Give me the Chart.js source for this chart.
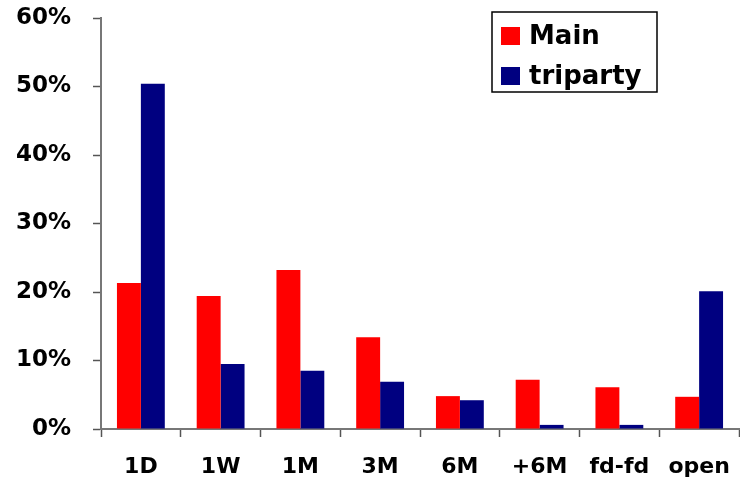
<!DOCTYPE html>
<html>
<head>
<meta charset="utf-8">
<script src="https://cdn.jsdelivr.net/npm/chart.js@4"></script>
<style>
  html, body { margin: 0; padding: 0; background: #fff; }
  #wrap { width: 740px; height: 488px; }
</style>
</head>
<body>
<div id="wrap"><canvas id="repoChart"></canvas></div>
<script>
// chart data
const categories = ["1D", "1W", "1M", "3M", "6M", "+6M", "fd-fd", "open"];
const mainValues = [21.3, 19.4, 23.2, 13.4, 4.8, 7.2, 6.1, 4.7];
const tripartyValues = [50.4, 9.5, 8.5, 6.9, 4.2, 0.6, 0.6, 20.1];
const yTicks = [0, 10, 20, 30, 40, 50, 60];

const FONT = "'DejaVu Sans', Verdana, sans-serif";

// legend drawn as a framed box in the top right, like the original
const boxLegend = {
  id: "boxLegend",
  afterDraw(chart) {
    const ctx = chart.ctx;
    const x = 492, y = 12, w = 165, h = 80;
    ctx.save();
    ctx.fillStyle = "#fff";
    ctx.fillRect(x, y, w, h);
    ctx.strokeStyle = "#000";
    ctx.lineWidth = 1.5;
    ctx.strokeRect(x, y, w, h);
    ctx.font = "bold 26px " + FONT;
    ctx.textBaseline = "middle";
    chart.data.datasets.forEach(function (ds, i) {
      const rowY = y + 24 + i * 40;
      ctx.fillStyle = ds.backgroundColor;
      ctx.fillRect(x + 9, rowY - 9, 19, 18);
      ctx.fillStyle = "#000";
      ctx.fillText(ds.label, x + 37, rowY + 1);
    });
    ctx.restore();
  }
};

const ctx = document.getElementById("repoChart").getContext("2d");
new Chart(ctx, {
  type: "bar",
  data: {
    labels: categories,
    datasets: [
      { label: "Main", data: mainValues, backgroundColor: "#FF0000" },
      { label: "triparty", data: tripartyValues, backgroundColor: "#000080" }
    ]
  },
  options: {
    responsive: true,
    maintainAspectRatio: false,
    animation: false,
    categoryPercentage: 0.6,
    barPercentage: 1.0,
    layout: { padding: { top: 18, right: 1, bottom: 0, left: 0 } },
    plugins: {
      legend: { display: false },
      tooltip: { enabled: false }
    },
    scales: {
      x: {
        offset: true,
        grid: {
          offset: true,
          drawOnChartArea: false,
          tickLength: 8,
          tickWidth: 1.5,
          tickColor: "#555"
        },
        border: { color: "#777", width: 2 },
        ticks: {
          color: "#000",
          padding: 17,
          maxRotation: 0,
          font: { family: FONT, size: 22, weight: "bold" }
        },
        afterFit: function (scale) {
          scale.height = 59;
          scale.paddingLeft = 0;
          scale.paddingRight = 0;
        }
      },
      y: {
        min: 0,
        max: 60,
        afterBuildTicks: function (scale) {
          scale.ticks = yTicks.map(function (v) { return { value: v }; });
        },
        grid: {
          drawOnChartArea: false,
          tickLength: 8,
          tickWidth: 1.5,
          tickColor: "#555"
        },
        border: { color: "#777", width: 2 },
        ticks: {
          color: "#000",
          padding: 22,
          font: { family: FONT, size: 23, weight: "bold" },
          callback: function (value) { return value + "%"; }
        },
        afterFit: function (scale) {
          scale.width = 101;
          scale.paddingTop = 0;
          scale.paddingBottom = 0;
        }
      }
    }
  },
  plugins: [boxLegend]
});
</script>
</body>
</html>
